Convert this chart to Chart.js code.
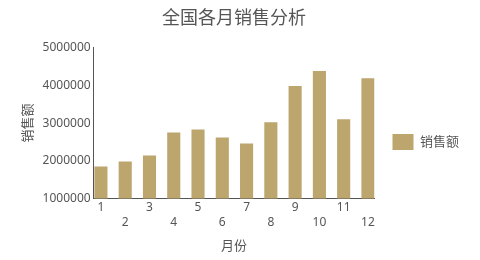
<!DOCTYPE html>
<html lang="zh">
<head>
  <meta charset="UTF-8">
  <title>全国各月销售分析</title>
  <script src="https://cdn.jsdelivr.net/npm/chart.js"></script>
  <style>
    html, body { margin: 0; padding: 0; background: #fff; }
    #wrap { width: 480px; height: 260px; }
  </style>
</head>
<body>
  <div id="wrap"><canvas id="salesChart"></canvas></div>
  <script>
    const months = [1, 2, 3, 4, 5, 6, 7, 8, 9, 10, 11, 12];
    const sales = [1850000, 1980000, 2140000, 2750000, 2830000, 2620000,
                   2460000, 3020000, 3980000, 4380000, 3100000, 4190000];
    const yTicks = [1000000, 2000000, 3000000, 4000000, 5000000];

    const font = '"Noto Sans", "Noto Sans CJK SC", sans-serif';
    const barColor = '#bca66d';

    const ctx = document.getElementById('salesChart').getContext('2d');
    new Chart(ctx, {
      type: 'bar',
      data: {
        datasets: [{
          label: '销售额',
          data: months.map((m, i) => ({ x: m, y: sales[i] })),
          backgroundColor: barColor,
          borderWidth: 0,
          barPercentage: 0.54,
          categoryPercentage: 1
        }]
      },
      options: {
        responsive: true,
        maintainAspectRatio: false,
        animation: false,
        layout: { padding: { left: 16, right: 11, top: 8, bottom: 2 } },
        plugins: {
          title: {
            display: true,
            fullSize: false,   // centre over the plot, not the whole canvas
            text: '全国各月销售分析',
            color: '#555',
            font: { family: font, size: 18, weight: 'normal' },
            padding: { top: 0, bottom: 18 }
          },
          legend: {
            position: 'right',
            title: {
              display: true,
              text: ' ',
              font: { size: 10 },
              padding: { top: 0, bottom: 6 }
            },
            labels: {
              color: '#555',
              font: { family: font, size: 13 },
              boxWidth: 21,
              boxHeight: 16,
              padding: 18
            }
          },
          tooltip: { enabled: false }
        },
        scales: {
          x: {
            type: 'linear',
            offset: false,
            min: 0.7,
            max: 12.27,
            afterBuildTicks: axis => { axis.ticks = months.map(m => ({ value: m })); },
            grid: { display: false, drawTicks: false },
            border: { color: '#555', width: 1 },
            ticks: {
              color: '#555',
              font: { family: font, size: 12 },
              padding: 2,
              maxRotation: 0,
              autoSkip: false,
              callback: v => (v % 2 === 0 ? ['', String(v)] : String(v))
            },
            title: {
              display: true,
              text: '月份',
              color: '#555',
              font: { family: font, size: 13 },
              padding: { top: 7 }
            }
          },
          y: {
            min: 1000000,
            max: 5000000,
            afterBuildTicks: axis => { axis.ticks = yTicks.map(v => ({ value: v })); },
            grid: { display: false, drawTicks: false },
            border: { color: '#555', width: 1 },
            ticks: {
              color: '#555',
              font: { family: font, size: 12 },
              padding: 3,
              callback: v => String(v)
            },
            title: {
              display: true,
              text: '销售额',
              color: '#555',
              font: { family: font, size: 13 },
              padding: { bottom: 4 }
            }
          }
        }
      }
    });
  </script>
</body>
</html>
